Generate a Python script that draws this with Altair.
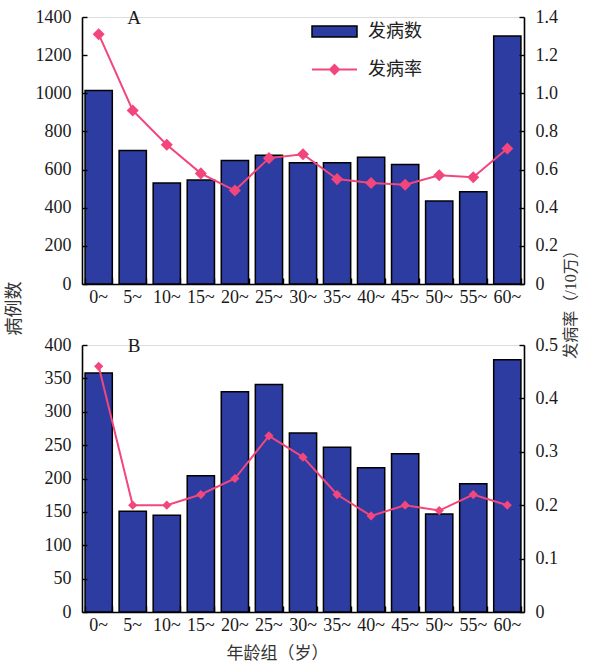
import altair as alt
import pandas as pd

# Age groups (years)
ages = ["0~", "5~", "10~", "15~", "20~", "25~", "30~", "35~", "40~", "45~", "50~", "55~", "60~"]

# Panel A: case counts and incidence (per 100,000)
cases_a = [1015, 700, 530, 545, 648, 675, 636, 636, 664, 626, 435, 484, 1300]
rate_a = [1.31, 0.91, 0.73, 0.58, 0.49, 0.66, 0.68, 0.55, 0.53, 0.52, 0.57, 0.56, 0.71]

# Panel B: case counts and incidence (per 100,000)
cases_b = [358, 151, 145, 204, 330, 341, 268, 247, 216, 237, 147, 192, 378]
rate_b = [0.46, 0.20, 0.20, 0.22, 0.25, 0.33, 0.29, 0.22, 0.18, 0.20, 0.19, 0.22, 0.20]

left_ticks_a = [0, 200, 400, 600, 800, 1000, 1200, 1400]
right_ticks_a = [0, 0.2, 0.4, 0.6, 0.8, 1.0, 1.2, 1.4]
left_ticks_b = [0, 50, 100, 150, 200, 250, 300, 350, 400]
right_ticks_b = [0, 0.1, 0.2, 0.3, 0.4, 0.5]

BLUE = "#2c3ca0"
PINK = "#f2467c"
NUM_FONT = "Liberation Serif"
CJK_FONT = "Liberation Serif, Noto Sans CJK SC"
W, H = 442, 267
INK = "#1a1a1a"


def x_scale():
    return alt.Scale(paddingInner=0.2, paddingOuter=0.09)


def panel(cases, rates, lticks, rticks, letter, top):
    df = pd.DataFrame({"age": ages, "cases": cases, "rate": rates})
    base = alt.Chart(df).transform_calculate(s1="'发病数'", s2="'发病率'")
    cmax = lticks[-1]
    rmax = rticks[-1]

    x_axis = alt.Axis(
        title=None if top else "年龄组（岁）",
        labelFont=NUM_FONT, labelFontSize=18, labelColor=INK, labelAngle=0,
        labelPadding=4, ticks=False, tickSize=0,
        domainColor="black", domainWidth=1.6,
        titleFont=CJK_FONT, titleFontSize=17, titleFontWeight="normal",
        titleColor="#333", titleX=195, titleY=41, titleBaseline="middle",
    )
    left_axis = alt.Axis(
        orient="left", values=lticks, ticks=False, tickSize=0, format="d",
        labelFont=NUM_FONT, labelFontSize=18, labelColor=INK, labelPadding=11,
        domainColor="black", domainWidth=1.6, grid=False,
        title="病例数" if top else None,
        titleFont=CJK_FONT, titleFontSize=18, titleFontWeight="normal",
        titleColor="#333", titleAngle=270, titleBaseline="middle",
        titleX=-68, titleY=291,
    )
    right_axis = alt.Axis(
        orient="right", values=rticks, ticks=False, tickSize=0,
        labelFont=NUM_FONT, labelFontSize=18, labelColor=INK, labelPadding=11,
        labelExpr="datum.value == 0 ? '0' : format(datum.value, '.1f')",
        domainColor="black", domainWidth=1.6, grid=False,
        title="发病率（/10万）" if top else None,
        titleFont=CJK_FONT, titleFontSize=16, titleFontWeight="normal",
        titleColor="#333", titleAngle=270, titleBaseline="middle",
        titleX=46, titleY=283,
    )

    bar_enc = dict(
        x=alt.X("age:N", sort=ages, scale=x_scale(), axis=x_axis),
        y=alt.Y("cases:Q", scale=alt.Scale(domain=[0, cmax], nice=False), axis=left_axis),
    )
    line_enc = dict(
        x=alt.X("age:N", sort=ages, scale=x_scale(), axis=None),
        y=alt.Y("rate:Q", scale=alt.Scale(domain=[0, rmax], nice=False), axis=right_axis),
    )
    if top:
        bar_enc["fill"] = alt.Fill(
            "s1:N", scale=alt.Scale(domain=["发病数"], range=[BLUE]),
            legend=alt.Legend(
                title=None, orient="none", legendX=229, legendY=-9,
                symbolType="M-1,-0.24H1V0.24H-1Z", symbolSize=2025,
                symbolStrokeColor="black", symbolStrokeWidth=1.5,
                labelFont=CJK_FONT, labelFontSize=18, labelColor="#222", labelOffset=10,
            ),
        )
        line_enc["stroke"] = alt.Stroke(
            "s2:N", scale=alt.Scale(domain=["发病率"], range=[PINK]),
            legend=alt.Legend(
                title=None, orient="none", legendX=229, legendY=29,
                symbolType="M-1,0H1M0,-0.2L0.2,0L0,0.2L-0.2,0Z", symbolSize=2025,
                symbolFillColor=PINK, symbolStrokeWidth=2,
                labelFont=CJK_FONT, labelFontSize=18, labelColor="#222", labelOffset=10,
            ),
        )

    bars = base.mark_bar(
        fill=BLUE, stroke="black", strokeWidth=1.5
    ).encode(**bar_enc)

    # inward tick marks on the bottom and left axes
    inner_left = base.mark_bar(opacity=0).encode(
        x=alt.X("age:N", sort=ages, scale=x_scale(), axis=alt.Axis(
            orient="bottom", offset=-6, tickSize=6, tickWidth=1.4, tickColor="black",
            tickBand="extent", labels=False, domain=False, title=None, zindex=2)),
        y=alt.Y("cases:Q", scale=alt.Scale(domain=[0, cmax], nice=False), axis=alt.Axis(
            orient="left", offset=-5, tickSize=5, tickWidth=1.4, tickColor="black",
            values=lticks, labels=False, domain=False, title=None, grid=False, zindex=2)),
    )

    line = base.mark_line(
        color=PINK, strokeWidth=2,
        point=alt.OverlayMarkDef(shape="diamond", filled=True, size=85, color=PINK),
    ).encode(**line_enc)

    # inward tick marks on the right axis
    inner_right = base.mark_line(opacity=0).encode(
        x=alt.X("age:N", sort=ages, scale=x_scale(), axis=None),
        y=alt.Y("rate:Q", scale=alt.Scale(domain=[0, rmax], nice=False), axis=alt.Axis(
            orient="right", offset=-5, tickSize=5, tickWidth=1.4, tickColor="black",
            values=rticks, labels=False, domain=False, title=None, grid=False, zindex=2)),
    )

    tag = alt.Chart(pd.DataFrame({"t": [letter]})).mark_text(
        font=NUM_FONT, fontSize=19, color=INK, align="center", baseline="middle"
    ).encode(text="t:N", x=alt.value(52), y=alt.value(1))

    return (
        alt.layer(bars, inner_left, line, inner_right, tag)
        .resolve_scale(y="independent")
        .resolve_axis(x="independent", y="independent")
        .properties(width=W, height=H)
    )


top_panel = panel(cases_a, rate_a, left_ticks_a, right_ticks_a, "A", True)
bottom_panel = panel(cases_b, rate_b, left_ticks_b, right_ticks_b, "B", False)

chart = (
    alt.vconcat(top_panel, bottom_panel, spacing=61, bounds="flush")
    .properties(padding={"left": 4, "top": 7, "right": 5, "bottom": 5})
    .configure_view(stroke=None)
    .configure(background="white")
)

chart.save("out.html", embed_options={"renderer": "svg", "actions": False})
